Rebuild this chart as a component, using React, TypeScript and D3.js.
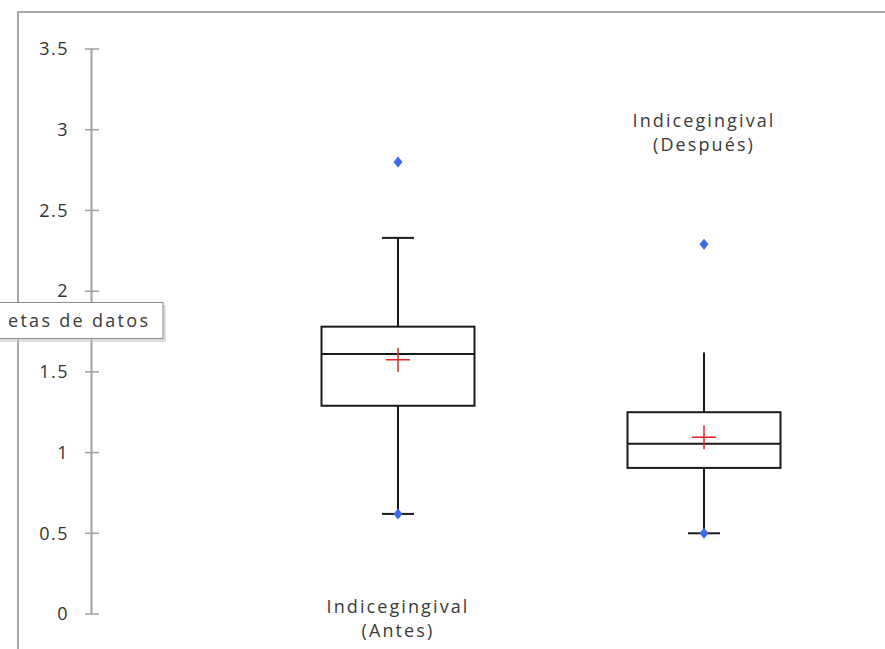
import React from "react";
import * as d3 from "d3";

const categories = ["Antes", "Después"];
const labelLine1 = ["Indicegingival", "Indicegingival"];
const labelLine2 = ["(Antes)", "(Después)"];
const q1 = [1.29, 0.905];
const medians = [1.61, 1.055];
const q3 = [1.78, 1.25];
const whiskerLow = [0.62, 0.5];
const whiskerHigh = [2.33, 1.62];
const means = [1.575, 1.095];
const outliers = [[2.8], [2.29]];
const capTop = [true, false];
const yTicks = [0, 0.5, 1, 1.5, 2, 2.5, 3, 3.5];

const W = 885;
const H = 649;
const FONT = "'Open Sans', 'Noto Sans', sans-serif";

export default function App() {
  const y = d3.scaleLinear().domain([0, 3.5]).range([614, 49]);
  const x = d3.scaleBand<string>().domain(categories).range([245, 857]).padding(0);
  const boxW = x.bandwidth() * 0.5;
  const capW = 32;
  const axisX = 91.5;
  const diamond = "M0,-5.5L4.5,0L0,5.5L-4.5,0Z";

  return (
    <svg
      width={W}
      height={H}
      style={{ position: "absolute", left: 0, top: 0, display: "block", background: "#fff" }}
    >
      <rect x={0} y={0} width={W} height={H} fill="#fff" />
      {/* chart border */}
      <rect x={18} y={12} width={W + 20} height={H + 20} fill="none" stroke="#a6a6a6" strokeWidth={2} />
      {/* axis */}
      <line x1={axisX} x2={axisX} y1={y(3.5)} y2={y(0)} stroke="#a0a0a0" strokeWidth={2} />
      {yTicks.map((t) => (
        <g key={t}>
          <line x1={85} x2={99} y1={y(t)} y2={y(t)} stroke="#a0a0a0" strokeWidth={1.5} />
          <text
            x={69}
            y={y(t)}
            dy="0.35em"
            textAnchor="end"
            fontFamily={FONT}
            fontSize={18}
            letterSpacing={1.5}
            fill="#333"
          >
            {String(t)}
          </text>
        </g>
      ))}
      {categories.map((c, i) => {
        const cx = (x(c) as number) + x.bandwidth() / 2;
        return (
          <g key={c}>
            {/* whiskers */}
            <line x1={cx} x2={cx} y1={y(q3[i])} y2={y(whiskerHigh[i])} stroke="#1a1a1a" strokeWidth={2} />
            <line x1={cx} x2={cx} y1={y(q1[i])} y2={y(whiskerLow[i])} stroke="#1a1a1a" strokeWidth={2} />
            {capTop[i] && (
              <line x1={cx - capW / 2} x2={cx + capW / 2} y1={y(whiskerHigh[i])} y2={y(whiskerHigh[i])} stroke="#1a1a1a" strokeWidth={2} />
            )}
            <line x1={cx - capW / 2} x2={cx + capW / 2} y1={y(whiskerLow[i])} y2={y(whiskerLow[i])} stroke="#1a1a1a" strokeWidth={2} />
            {/* box */}
            <rect
              x={cx - boxW / 2}
              y={y(q3[i])}
              width={boxW}
              height={y(q1[i]) - y(q3[i])}
              fill="#fff"
              stroke="#1a1a1a"
              strokeWidth={2}
            />
            <line x1={cx - boxW / 2} x2={cx + boxW / 2} y1={y(medians[i])} y2={y(medians[i])} stroke="#1a1a1a" strokeWidth={2} />
            {/* mean cross */}
            <line x1={cx - 12} x2={cx + 12} y1={y(means[i])} y2={y(means[i])} stroke="#e3262b" strokeWidth={1.5} />
            <line x1={cx} x2={cx} y1={y(means[i]) - 12} y2={y(means[i]) + 12} stroke="#e3262b" strokeWidth={1.5} />
            {/* min marker */}
            <path d={diamond} transform={`translate(${cx},${y(whiskerLow[i])})`} fill="#3b6cf0" />
            {outliers[i].map((o, j) => (
              <path key={j} d={diamond} transform={`translate(${cx},${y(o)})`} fill="#3b6cf0" />
            ))}
          </g>
        );
      })}
      {/* data labels */}
      {categories.map((c, i) => {
        const cx = (x(c) as number) + x.bandwidth() / 2;
        const top = i === 0 ? 607 : 121;
        return (
          <text
            key={"l" + c}
            x={cx}
            textAnchor="middle"
            fontFamily={FONT}
            fontSize={18}
            letterSpacing={2.1}
            fill="#3a3a3a"
          >
            <tspan x={cx} y={top} dy="0.35em">{labelLine1[i]}</tspan>
            <tspan x={cx} y={top + 24} dy="0.35em">{labelLine2[i]}</tspan>
          </text>
        );
      })}
      {/* tooltip */}
      <rect x={-4} y={305} width={170} height={37} fill="#c8c8c8" opacity={0.6} />
      <rect x={-6} y={302.5} width={169} height={36} fill="#fff" stroke="#8c8c8c" strokeWidth={1} />
      <text x={8} y={320.5} dy="0.35em" textAnchor="start" fontFamily={FONT} fontSize={18} letterSpacing={2.3} fill="#3a3a3a">
        etas de datos
      </text>
    </svg>
  );
}
